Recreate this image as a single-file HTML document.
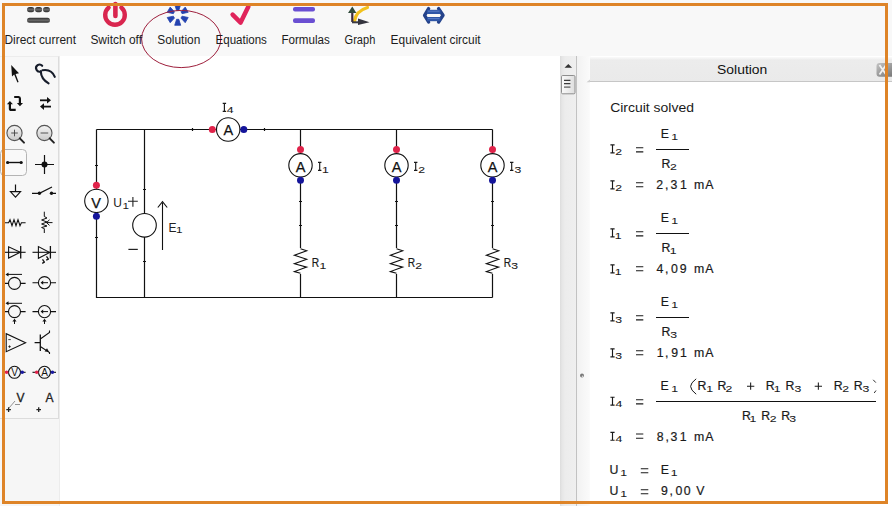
<!DOCTYPE html>
<html><head><meta charset="utf-8">
<style>
html,body{margin:0;padding:0;}
body{width:892px;height:506px;position:relative;overflow:hidden;background:#fff;font-family:"Liberation Sans",sans-serif;}
.abs{position:absolute;}
#toolbar{left:0;top:0;width:892px;height:56px;background:#f8f8f8;}
#leftstrip{left:0;top:56px;width:59px;height:450px;background:#f6f6f6;border-right:1px solid #ececec;}
#panel{left:0;top:56px;width:58px;height:361px;background:#f7f7f7;border-right:1px solid #dcdcdc;border-bottom:1px solid #dcdcdc;border-top:1px solid #ececec;}
#canvas{left:60px;top:56px;width:501px;height:450px;background:#fff;}
#vscroll{left:560px;top:56px;width:16px;height:450px;background:linear-gradient(to right,#dcdcdc 0,#e6e6e6 2px,#ececec 5px,#efefef 100%);border-right:1px solid #c2c2c2;}
#splitter{left:577px;top:56px;width:14px;height:450px;background:linear-gradient(to right,#f2f2f2 0,#f6f6f6 6px,#fafafa 12px,#fdfdfd 100%);}
#solhdr{left:590px;top:57px;width:302px;height:24px;background:linear-gradient(#fafafa 0,#f6f6f6 1px,#ececec 3px,#eaeaea 100%);border-bottom:1px solid #c6c6c6;}
#solbody{left:590px;top:82px;width:302px;height:424px;background:#fff;}
#frame{left:2px;top:3px;width:880px;height:495px;border:3px solid #de8428;}
svg{position:absolute;left:0;top:0;}
</style></head>
<body>
<div id="toolbar" class="abs"></div>
<div id="leftstrip" class="abs"></div>
<div id="panel" class="abs"></div>
<div id="canvas" class="abs"></div>
<div id="vscroll" class="abs"></div>
<div id="splitter" class="abs"></div>
<div id="solhdr" class="abs"></div>
<div id="solbody" class="abs"></div>

<svg width="892" height="506" viewBox="0 0 892 506" font-family="Liberation Sans, sans-serif">

  <!-- ===== toolbar icons ===== -->
  <defs>
    <linearGradient id="gdc" x1="0" y1="0" x2="0" y2="1">
      <stop offset="0" stop-color="#2e2e2e"/><stop offset="0.5" stop-color="#6a6a6a"/><stop offset="1" stop-color="#2a2a2a"/>
    </linearGradient>
    <linearGradient id="gmag" x1="0" y1="0" x2="0" y2="1">
      <stop offset="0" stop-color="#f4f4f4"/><stop offset="1" stop-color="#c9c9c9"/>
    </linearGradient>
    <linearGradient id="gthumb" x1="0" y1="0" x2="1" y2="0">
      <stop offset="0" stop-color="#fafafa"/><stop offset="1" stop-color="#dedede"/>
    </linearGradient>
    <linearGradient id="gclose" x1="0" y1="0" x2="1" y2="1">
      <stop offset="0" stop-color="#c4c4c4"/><stop offset="1" stop-color="#6e6e6e"/>
    </linearGradient>
    <linearGradient id="ghdr" x1="0" y1="0" x2="0" y2="1">
      <stop offset="0" stop-color="#f3f3f3"/><stop offset="1" stop-color="#e6e6e6"/>
    </linearGradient>
  </defs>
  <!-- Direct current -->
  <g fill="url(#gdc)">
    <rect x="27" y="7" width="7.4" height="5.2" rx="2.6"/>
    <rect x="35" y="7" width="7.2" height="5.2" rx="2.6"/>
    <rect x="43" y="7" width="7" height="5.2" rx="2.6"/>
    <rect x="27" y="17.8" width="23" height="5" rx="2.5"/>
  </g>
  <!-- Switch off (power) -->
  <path d="M108.6 7.6 A9.8 9.8 0 1 0 121.4 7.6" fill="none" stroke="#d9264f" stroke-width="4.4" stroke-linecap="round"/>
  <path d="M115.4 4 V16" stroke="#d9264f" stroke-width="4.6" stroke-linecap="round"/>
  <!-- Solution spinner -->
  <path d="M178.80 10.50 L180.70 4.50 L174.70 4.50 L176.60 10.50 Z M182.06 13.65 L188.21 12.30 L185.21 7.10 L180.96 11.75 Z M180.96 18.05 L185.21 22.70 L188.21 17.50 L182.06 16.15 Z M176.60 19.30 L174.70 25.30 L180.70 25.30 L178.80 19.30 Z M173.34 16.15 L167.19 17.50 L170.19 22.70 L174.44 18.05 Z M174.44 11.75 L170.19 7.10 L167.19 12.30 L173.34 13.65 Z" fill="#2443b0" stroke="#2443b0" stroke-width="0.8" stroke-linejoin="round"/>
  <!-- Equations checkmark -->
  <path d="M232.6 14.6 L240.6 22.6 L248.4 6.6" fill="none" stroke="#e0245b" stroke-width="4.5" stroke-linecap="round" stroke-linejoin="round"/>
  <!-- Formulas = -->
  <g fill="#6a4fd2">
    <rect x="293" y="7" width="22" height="4.4" rx="2"/>
    <rect x="293" y="18.3" width="22" height="4.8" rx="2"/>
  </g>
  <!-- Graph -->
  <path d="M354.5 21 Q356 11 367.5 7.5" fill="none" stroke="#f2c21e" stroke-width="3.2" stroke-linecap="round"/>
  <path d="M352.3 22 V11" stroke="#3c2a3c" stroke-width="2.2"/>
  <path d="M348 13 L352.3 6.5 L356.4 13 Z" fill="#2f4a3a"/>
  <path d="M352 22.3 H360" stroke="#3a3a44" stroke-width="2"/>
  <path d="M358 18.6 L369.5 22.3 L358 25 Z" fill="#34343e"/>
  <!-- Equivalent circuit -->
  <g fill="none" stroke="#24428a" stroke-width="3.4" stroke-linejoin="round" stroke-linecap="round">
    <path d="M428.6 8.6 L424.6 15.3 L428.6 22"/>
    <path d="M438.6 8.6 L443 15.3 L438.6 22"/>
  </g>
  <rect x="427" y="9.8" width="13.5" height="4.2" fill="#2f56a6"/>
  <rect x="427" y="17" width="13.5" height="4.2" fill="#2f56a6"/>
  <path d="M428 11.2 H439.5 M428 18.6 H439.5" stroke="#5a7cc6" stroke-width="1"/>
  <!-- red ellipse annotation -->
  <ellipse cx="181.2" cy="39" rx="39.6" ry="28.6" fill="none" stroke="#9e1f3c" stroke-width="1"/>

  <!-- ===== left tool panel icons ===== -->
  <!-- cursor -->
  <path d="M11.2 65 L19 73.2 L15.6 74 L18.6 82 L17.4 82.5 L14.2 74.6 L12 76.6 Z" fill="#111"/>
  <!-- pliers / ribbon -->
  <g fill="none" stroke="#161c2a" stroke-width="2.1" stroke-linecap="round">
    <path d="M42.2 65.8 A3.5 3.5 0 1 0 40.8 71.4"/>
    <path d="M40.8 71.4 Q41 79 48.6 83.3"/>
    <path d="M42.4 70.2 Q51.5 68.6 54.8 76.8"/>
  </g>
  <!-- rotate -->
  <g fill="none" stroke="#111" stroke-width="2.2" stroke-linejoin="round">
    <path d="M14.2 97 H18.6 Q19.9 97 19.9 98.4 V103.4"/>
    <path d="M9.9 104 V108.4 Q9.9 109.9 11.4 109.9 H15.7"/>
  </g>
  <path d="M16.9 102.9 L23 102.9 L19.95 106.2 Z" fill="#111"/>
  <path d="M6.9 104.3 L12.9 104.3 L9.9 100.9 Z" fill="#111"/>
  <!-- swap -->
  <g stroke="#111" stroke-width="1.8">
    <path d="M40 100.3 H48"/><path d="M43 106.6 H51"/>
  </g>
  <path d="M47 97 L51 100.3 L47 103.6 Z" fill="#111"/>
  <path d="M44 103.3 L40 106.6 L44 109.9 Z" fill="#111"/>
  <!-- zoom + -->
  <circle cx="14.5" cy="133" r="7.6" fill="url(#gmag)" stroke="#555" stroke-width="1.1"/>
  <path d="M11.2 133 H17.8 M14.5 129.7 V136.3" stroke="#444" stroke-width="0.9"/>
  <path d="M19.8 138.4 L24 142.6" stroke="#222" stroke-width="2" stroke-linecap="round"/>
  <!-- zoom - -->
  <circle cx="44.4" cy="133" r="7.6" fill="url(#gmag)" stroke="#555" stroke-width="1.1"/>
  <path d="M40.6 133 H48.2" stroke="#444" stroke-width="0.9"/>
  <path d="M49.7 138.4 L53.9 142.6" stroke="#222" stroke-width="2" stroke-linecap="round"/>
  <!-- wire (selected) -->
  <rect x="0.5" y="149.5" width="26" height="26" rx="4" fill="#f9f9f9" stroke="#b4b4b4" stroke-width="1"/>
  <path d="M7.4 162.5 H21.4" stroke="#111" stroke-width="1.4"/>
  <circle cx="7.6" cy="162.5" r="1.6" fill="#111"/><circle cx="21.2" cy="162.5" r="1.6" fill="#111"/>
  <!-- junction -->
  <path d="M35 164.5 H54 M44.5 155 V174" stroke="#111" stroke-width="1.2"/>
  <circle cx="44.5" cy="164.5" r="3" fill="#111"/>
  <!-- ground -->
  <path d="M15.5 184.5 V191.6" stroke="#111" stroke-width="1.2"/>
  <path d="M10.4 191.6 H20.6 L15.5 197.2 Z" fill="none" stroke="#111" stroke-width="1.1"/>
  <!-- switch -->
  <path d="M32 193.3 H39.4 L52 187 M51.5 193.3 H56" fill="none" stroke="#111" stroke-width="1.2"/>
  <circle cx="39.4" cy="193.3" r="1.7" fill="#111"/><circle cx="51.5" cy="193.3" r="1.7" fill="#111"/>
  <!-- resistor -->
  <path d="M4.8 222.7 H8.6 L10 219.7 L12 225.7 L14 219.7 L16 225.7 L18 219.7 L20 225.7 L21.4 222.7 H25.6" fill="none" stroke="#111" stroke-width="1.1"/>
  <!-- variable resistor -->
  <path d="M44.3 211.7 V216.5 L47 218 L41.6 220 L47 222 L41.6 224 L47 226 L41.6 227.5 L44.3 228.6 V233" fill="none" stroke="#111" stroke-width="1"/>
  <path d="M52.5 222.6 H46.5 M49.5 219.8 L46.5 222.6 L49.5 225.4" fill="none" stroke="#111" stroke-width="1"/>
  <!-- diode -->
  <path d="M4.8 252.3 H25.6" stroke="#111" stroke-width="1.1"/>
  <path d="M8.6 246.8 V258 L20.3 252.3 Z" fill="none" stroke="#111" stroke-width="1.1"/>
  <path d="M20.7 246 V258.6" stroke="#111" stroke-width="1.3"/>
  <!-- LED -->
  <path d="M32.5 252.3 H56" stroke="#111" stroke-width="1.1"/>
  <path d="M38.4 246.6 V258.3 L49.7 252.5 Z" fill="none" stroke="#111" stroke-width="1.1"/>
  <path d="M50.4 246 V258.6" stroke="#111" stroke-width="1.3"/>
  <path d="M42.5 259.4 L44.4 262.2 L42.2 263.3 M46.5 256.3 L48.4 259.1 L46.2 260.2" fill="none" stroke="#111" stroke-width="1.3" stroke-linejoin="round"/>
  <!-- voltage source -->
  <path d="M4.8 283.4 H8.5 M20.5 283.4 H25.6" stroke="#111" stroke-width="1.1"/>
  <circle cx="14.5" cy="283.4" r="6" fill="none" stroke="#111" stroke-width="1.1"/>
  <path d="M7 274.4 H22" stroke="#111" stroke-width="1"/>
  <path d="M5.5 274.4 L8.5 272.4 L8.5 276.4 Z" fill="#111"/>
  <!-- current source -->
  <path d="M32.5 282.7 H38.3 M50.7 282.7 H56" stroke="#111" stroke-width="1.1"/>
  <circle cx="44.5" cy="282.7" r="6.1" fill="none" stroke="#111" stroke-width="1.1"/>
  <path d="M41.5 282.7 H48" stroke="#111" stroke-width="1"/>
  <path d="M40.6 282.7 L43.2 280.6 L43.2 284.8 Z" fill="#111"/>
  <!-- controlled voltage source -->
  <path d="M4.8 311.6 H8.5 M20.5 311.6 H25.6" stroke="#111" stroke-width="1.1"/>
  <circle cx="14.5" cy="311.6" r="6" fill="none" stroke="#111" stroke-width="1.1"/>
  <path d="M7 303.3 H22" stroke="#111" stroke-width="1"/>
  <path d="M5.5 303.3 L8.5 301.3 L8.5 305.3 Z" fill="#111"/>
  <path d="M14.5 320 V324" stroke="#111" stroke-width="1"/>
  <path d="M12.4 321.4 L14.5 318.8 L16.6 321.4 Z" fill="#111"/>
  <!-- controlled current source -->
  <path d="M32.5 311.6 H38.3 M50.7 311.6 H56" stroke="#111" stroke-width="1.1"/>
  <circle cx="44.5" cy="311.6" r="6.1" fill="none" stroke="#111" stroke-width="1.1"/>
  <path d="M41.5 311.6 H48" stroke="#111" stroke-width="1"/>
  <path d="M40.6 311.6 L43.2 309.5 L43.2 313.7 Z" fill="#111"/>
  <path d="M44.5 320 V324" stroke="#111" stroke-width="1"/>
  <path d="M42.4 321.4 L44.5 318.8 L46.6 321.4 Z" fill="#111"/>
  <!-- op-amp -->
  <path d="M6.2 333.7 V351.7 L25.6 342.7 Z" fill="none" stroke="#111" stroke-width="1.1"/>
  <path d="M8.3 339.6 H10.8 M8.3 346.6 H10.8 M9.55 345.35 V347.85" stroke="#111" stroke-width="0.8"/>
  <!-- transistor -->
  <path d="M34.6 342.7 H40 M40.3 334.4 V351" stroke="#111" stroke-width="1.3"/>
  <path d="M40.3 339 L49.5 332.5 V330.5 M40.3 346.5 L49.5 352.5 V354" fill="none" stroke="#111" stroke-width="1.1"/>
  <path d="M49 351.8 L44.6 351.6 L47 348.2 Z" fill="#111"/>
  <!-- voltmeter -->
  <path d="M4.8 372.3 H25.6" stroke="#111" stroke-width="1.1"/>
  <circle cx="14.5" cy="372.3" r="6" fill="#f7f7f7" stroke="#111" stroke-width="1.1"/>
  <circle cx="6.6" cy="372.3" r="1.8" fill="#e0234a"/>
  <circle cx="22.2" cy="372.3" r="1.8" fill="#1a1aa0"/>
  <text x="14.5" y="376.2" font-size="10" text-anchor="middle" fill="#111">V</text>
  <!-- ammeter -->
  <path d="M32.5 372.3 H56" stroke="#111" stroke-width="1.1"/>
  <circle cx="44.5" cy="372.3" r="6" fill="#f7f7f7" stroke="#111" stroke-width="1.1"/>
  <circle cx="36.7" cy="372.3" r="1.8" fill="#e0234a"/>
  <circle cx="52.4" cy="372.3" r="1.8" fill="#1a1aa0"/>
  <text x="44.5" y="376.2" font-size="10" text-anchor="middle" fill="#111">A</text>
  <!-- V/A labels -->
  <text x="16.4" y="401.5" font-size="12" fill="#222" stroke="#222" stroke-width="0.3">V</text>
  <text x="45.4" y="401.5" font-size="12" fill="#222" stroke="#222" stroke-width="0.3">A</text>
  <path d="M6.3 409.6 H10.9 M8.6 407.3 V411.9 M36.4 409.6 H41 M38.7 407.3 V411.9" stroke="#222" stroke-width="1.3"/>
  <path d="M9 408 L15 401 M15 404.5 H20" stroke="#777" stroke-width="0.8"/>


  <!-- ===== circuit ===== -->
  <g stroke="#111" stroke-width="1.2" fill="none">
    <path d="M96.5 129.5 H492.5 M96.5 129.5 V297.5 H492.5 M144.5 129.5 V297.5 M300.5 129.5 V297.5 M396.5 129.5 V297.5 M492.5 129.5 V297.5"/>
  </g>
  <!-- ticks -->
  <g stroke="#111" stroke-width="1.2">
    <path d="M95 165.5 H98 M95 237.5 H98 M143 189.5 H146 M143 261.5 H146 M192.5 128 V131 M264.5 128 V131"/>
    <path d="M299 201.5 H302 M299 225.5 H302 M395 201.5 H398 M395 225.5 H398 M491 201.5 H494 M491 225.5 H494"/>
  </g>
  <!-- resistors -->
  <g id="res1" fill="none" stroke="#111" stroke-width="1.1">
    <rect x="293" y="248" width="15" height="26" fill="#fff" stroke="none"/>
    <path d="M300.5 248.8 L306.7 250.8 L294.4 255.3 L306.7 259.2 L294.4 263.7 L306.7 267.1 L294.4 271.6 L300.5 273.2"/>
  </g>
  <use href="#res1" x="96"/>
  <use href="#res1" x="192"/>
  <!-- voltmeter -->
  <circle cx="96.4" cy="200.9" r="11.7" fill="#fff" stroke="#111" stroke-width="1.1"/>
  <circle cx="96.4" cy="185.3" r="3.5" fill="#e0234a"/>
  <circle cx="96.4" cy="216.2" r="3.5" fill="#14149a"/>
  <text x="96.2" y="207.6" font-size="14.5" text-anchor="middle" fill="#111" stroke="#111" stroke-width="0.25">V</text>
  <text x="113.3" y="206.7" font-size="12" fill="#222">U</text>
  <text transform="translate(122.4 208.6) scale(1.3 1)" font-size="9" fill="#1a1a1a">1</text>
  <path d="M128 201.3 H137.8 M132.9 196.9 V206.7" stroke="#222" stroke-width="1.1"/>
  <!-- E1 source -->
  <circle cx="144.5" cy="225.3" r="11.8" fill="#fff" stroke="#111" stroke-width="1.1"/>
  <path d="M162.5 250 V203" stroke="#111" stroke-width="1.1"/>
  <path d="M157.8 207.5 L162.5 201.6 L167.2 207.5" fill="none" stroke="#111" stroke-width="1.1"/>
  <path d="M128.4 249.4 H137.8" stroke="#222" stroke-width="1.2"/>
  <text x="168.5" y="231.7" font-size="12" fill="#222">E</text>
  <text transform="translate(176.0 233) scale(1.3 1)" font-size="9" fill="#1a1a1a">1</text>
  <!-- ammeters -->
  <g id="amm1">
    <circle cx="300.5" cy="165.3" r="11.7" fill="#fff" stroke="#111" stroke-width="1.1"/>
    <circle cx="300.5" cy="149.4" r="3.5" fill="#e0234a"/>
    <circle cx="300.5" cy="180.2" r="3.5" fill="#14149a"/>
    <text x="300.5" y="171.5" font-size="14.5" text-anchor="middle" fill="#111" stroke="#111" stroke-width="0.25">A</text>
  </g>
  <use href="#amm1" x="96"/>
  <use href="#amm1" x="192"/>
  <circle cx="228.2" cy="129.5" r="11.7" fill="#fff" stroke="#111" stroke-width="1.1"/>
  <circle cx="212.3" cy="129.5" r="3.5" fill="#e0234a"/>
  <circle cx="243.8" cy="129.5" r="3.5" fill="#14149a"/>
  <text x="228.4" y="135.4" font-size="14.5" text-anchor="middle" fill="#111" stroke="#111" stroke-width="0.25">A</text>
<!-- LBL START -->
  <g fill="#1a1a1a" stroke="#1a1a1a" stroke-width="0.2">
<path d="M318.00 162.40 H321.40 M319.70 162.40 V170.30 M318.00 170.30 H321.40" stroke="#1a1a1a" stroke-width="1.15" fill="none"/>
<text transform="translate(321.97 172.80) scale(1.3 1)" font-size="9.4" stroke-width="0.08">1</text>
<path d="M414.00 162.40 H417.40 M415.70 162.40 V170.30 M414.00 170.30 H417.40" stroke="#1a1a1a" stroke-width="1.15" fill="none"/>
<text transform="translate(418.29 172.80) scale(1.3 1)" font-size="9.4" stroke-width="0.08">2</text>
<path d="M510.00 162.40 H513.40 M511.70 162.40 V170.30 M510.00 170.30 H513.40" stroke="#1a1a1a" stroke-width="1.15" fill="none"/>
<text transform="translate(514.43 172.80) scale(1.3 1)" font-size="9.4" stroke-width="0.08">3</text>
<path d="M222.70 103.40 H226.10 M224.40 103.40 V111.30 M222.70 111.30 H226.10" stroke="#1a1a1a" stroke-width="1.15" fill="none"/>
<text transform="translate(226.72 113.00) scale(1.3 1)" font-size="9.4" stroke-width="0.08">4</text>
<text transform="translate(311.87 266.6) scale(0.85 1)" font-size="12">R</text>
<text transform="translate(319.4 268.60) scale(1.3 1)" font-size="9.4" stroke-width="0.08">1</text>
<text transform="translate(407.87 266.6) scale(0.85 1)" font-size="12">R</text>
<text transform="translate(415.2 268.60) scale(1.3 1)" font-size="9.4" stroke-width="0.08">2</text>
<text transform="translate(503.87 266.6) scale(0.85 1)" font-size="12">R</text>
<text transform="translate(511.2 268.60) scale(1.3 1)" font-size="9.4" stroke-width="0.08">3</text>
  </g>
<!-- LBL END -->


  <!-- ===== scrollbar / splitter / header ===== -->
  <path d="M564.5 67.7 L568.3 63.9 L572.1 67.7 Z" fill="#333"/>
  <rect x="561.5" y="75.5" width="13.5" height="18.3" rx="1.2" fill="url(#gthumb)" stroke="#8e8e8e" stroke-width="1"/>
  <path d="M564 80.3 H570.4 M564 83.7 H570.4" stroke="#3a3a3a" stroke-width="1.2"/>
  <path d="M564 87.1 H570.4" stroke="#555" stroke-width="1.2"/>
    <circle cx="582" cy="375.6" r="2" fill="#777"/>
  <circle cx="582.5" cy="376.2" r="0.8" fill="#ddd"/>
  <path d="M590 82.2 L586.5 82.2 L590 79.5 Z" fill="#cfcfcf"/>
  <text x="717.1" y="73.8" font-size="12.6" fill="#111" textLength="50.2" lengthAdjust="spacingAndGlyphs">Solution</text>
  <rect x="876.5" y="62.9" width="20" height="13.8" rx="3" fill="url(#gclose)"/>
  <path d="M879.5 65 L886 74.5 M886 65 L879.5 74.5" stroke="#f2f2f2" stroke-width="1.8"/>
<!-- SOL START -->
<g fill="#1a1a1a" stroke="#1a1a1a" stroke-width="0.2">
<text x="610.2" y="111.7" font-size="12.4" stroke="none" textLength="83.8" lengthAdjust="spacingAndGlyphs">Circuit solved</text>
<path d="M610.40 144.90 H614.60 M612.50 144.90 V152.80 M610.40 152.80 H614.60" stroke="#1a1a1a" stroke-width="1.15" fill="none"/>
<text transform="translate(615.18 154.80) scale(1.25 1)" font-size="9.8" stroke-width="0.08">2</text>
<path d="M636 147.75 H643.3 M636 151.85 H643.3" stroke="#1a1a1a" stroke-width="1.05"/>
<path d="M656 149.5 H689" stroke="#111" stroke-width="1.2"/>
<text x="660.69" y="137.90" font-size="12.3">E</text>
<text transform="translate(671.37 139.80) scale(1.25 1)" font-size="9.8" stroke-width="0.08">1</text>
<text x="661.39" y="167.60" font-size="12.3">R</text>
<text transform="translate(669.98 169.60) scale(1.25 1)" font-size="9.8" stroke-width="0.08">2</text>
<path d="M610.40 180.90 H614.60 M612.50 180.90 V188.80 M610.40 188.80 H614.60" stroke="#1a1a1a" stroke-width="1.15" fill="none"/>
<text transform="translate(615.18 190.80) scale(1.25 1)" font-size="9.8" stroke-width="0.08">2</text>
<path d="M636 182.65 H643.3 M636 186.75 H643.3" stroke="#1a1a1a" stroke-width="1.05"/>
<text x="656.28" y="189.30" font-size="12.3">2</text>
<text x="665.09" y="189.30" font-size="12.3">,</text>
<text x="670.53" y="189.30" font-size="12.3">3</text>
<text x="680.06" y="189.30" font-size="12.3">1</text>
<text x="693.88" y="189.30" font-size="12.3">m</text>
<text x="705.28" y="189.30" font-size="12.3">A</text>
<path d="M610.40 228.90 H614.60 M612.50 228.90 V236.80 M610.40 236.80 H614.60" stroke="#1a1a1a" stroke-width="1.15" fill="none"/>
<text transform="translate(614.87 238.80) scale(1.25 1)" font-size="9.8" stroke-width="0.08">1</text>
<path d="M636 231.75 H643.3 M636 235.85 H643.3" stroke="#1a1a1a" stroke-width="1.05"/>
<path d="M656 233.5 H689" stroke="#111" stroke-width="1.2"/>
<text x="660.69" y="221.90" font-size="12.3">E</text>
<text transform="translate(671.37 223.80) scale(1.25 1)" font-size="9.8" stroke-width="0.08">1</text>
<text x="661.39" y="251.60" font-size="12.3">R</text>
<text transform="translate(669.67 253.60) scale(1.25 1)" font-size="9.8" stroke-width="0.08">1</text>
<path d="M610.40 264.90 H614.60 M612.50 264.90 V272.80 M610.40 272.80 H614.60" stroke="#1a1a1a" stroke-width="1.15" fill="none"/>
<text transform="translate(614.87 274.80) scale(1.25 1)" font-size="9.8" stroke-width="0.08">1</text>
<path d="M636 266.65 H643.3 M636 270.75 H643.3" stroke="#1a1a1a" stroke-width="1.05"/>
<text x="656.62" y="273.30" font-size="12.3">4</text>
<text x="665.09" y="273.30" font-size="12.3">,</text>
<text x="671.12" y="273.30" font-size="12.3">0</text>
<text x="679.82" y="273.30" font-size="12.3">9</text>
<text x="693.88" y="273.30" font-size="12.3">m</text>
<text x="705.28" y="273.30" font-size="12.3">A</text>
<path d="M610.40 312.90 H614.60 M612.50 312.90 V320.80 M610.40 320.80 H614.60" stroke="#1a1a1a" stroke-width="1.15" fill="none"/>
<text transform="translate(615.33 322.80) scale(1.25 1)" font-size="9.8" stroke-width="0.08">3</text>
<path d="M636 315.75 H643.3 M636 319.85 H643.3" stroke="#1a1a1a" stroke-width="1.05"/>
<path d="M656 317.5 H689" stroke="#111" stroke-width="1.2"/>
<text x="660.69" y="305.90" font-size="12.3">E</text>
<text transform="translate(671.37 307.80) scale(1.25 1)" font-size="9.8" stroke-width="0.08">1</text>
<text x="661.39" y="335.60" font-size="12.3">R</text>
<text transform="translate(670.13 337.60) scale(1.25 1)" font-size="9.8" stroke-width="0.08">3</text>
<path d="M610.40 348.90 H614.60 M612.50 348.90 V356.80 M610.40 356.80 H614.60" stroke="#1a1a1a" stroke-width="1.15" fill="none"/>
<text transform="translate(615.33 358.80) scale(1.25 1)" font-size="9.8" stroke-width="0.08">3</text>
<path d="M636 350.65 H643.3 M636 354.75 H643.3" stroke="#1a1a1a" stroke-width="1.05"/>
<text x="656.66" y="357.30" font-size="12.3">1</text>
<text x="665.09" y="357.30" font-size="12.3">,</text>
<text x="671.22" y="357.30" font-size="12.3">9</text>
<text x="680.06" y="357.30" font-size="12.3">1</text>
<text x="693.88" y="357.30" font-size="12.3">m</text>
<text x="705.28" y="357.30" font-size="12.3">A</text>
<path d="M610.40 397.20 H614.60 M612.50 397.20 V405.10 M610.40 405.10 H614.60" stroke="#1a1a1a" stroke-width="1.15" fill="none"/>
<text transform="translate(615.52 407.10) scale(1.25 1)" font-size="9.8" stroke-width="0.08">4</text>
<path d="M636 399.75 H643.3 M636 403.85 H643.3" stroke="#1a1a1a" stroke-width="1.05"/>
<path d="M656 401.5 H876" stroke="#111" stroke-width="1.2"/>
<text x="660.39" y="389.90" font-size="12.3">E</text>
<text transform="translate(671.27 391.80) scale(1.25 1)" font-size="9.8" stroke-width="0.08">1</text>
<path d="M696.2 378.8 Q690.6 383 690.6 386.4 Q690.6 390 696.2 394.2" fill="none" stroke="#1a1a1a" stroke-width="1"/>
<text x="697.49" y="389.90" font-size="12.3">R</text>
<text transform="translate(706.27 391.90) scale(1.25 1)" font-size="9.8" stroke-width="0.08">1</text>
<text x="717.59" y="389.90" font-size="12.3">R</text>
<text transform="translate(725.58 391.90) scale(1.25 1)" font-size="9.8" stroke-width="0.08">2</text>
<text x="765.69" y="389.90" font-size="12.3">R</text>
<text transform="translate(773.87 391.90) scale(1.25 1)" font-size="9.8" stroke-width="0.08">1</text>
<text x="785.59" y="389.90" font-size="12.3">R</text>
<text transform="translate(794.43 391.90) scale(1.25 1)" font-size="9.8" stroke-width="0.08">3</text>
<text x="833.69" y="389.90" font-size="12.3">R</text>
<text transform="translate(842.18 391.90) scale(1.25 1)" font-size="9.8" stroke-width="0.08">2</text>
<text x="853.69" y="389.90" font-size="12.3">R</text>
<text transform="translate(862.43 391.90) scale(1.25 1)" font-size="9.8" stroke-width="0.08">3</text>
<path d="M747 386.2 H754.3 M750.65 382.55 V389.85" stroke="#1a1a1a" stroke-width="1.05"/>
<path d="M814.7 386.2 H822 M818.35 382.55 V389.85" stroke="#1a1a1a" stroke-width="1.05"/>
<path d="M873.2 379.8 L875.8 382.6 M876 390.5 L874.2 393" fill="none" stroke="#1a1a1a" stroke-width="0.9"/>
<text x="741.89" y="419.80" font-size="12.3">R</text>
<text transform="translate(749.47 421.80) scale(1.25 1)" font-size="9.8" stroke-width="0.08">1</text>
<text x="761.19" y="419.80" font-size="12.3">R</text>
<text transform="translate(769.78 421.80) scale(1.25 1)" font-size="9.8" stroke-width="0.08">2</text>
<text x="781.19" y="419.80" font-size="12.3">R</text>
<text transform="translate(789.33 421.80) scale(1.25 1)" font-size="9.8" stroke-width="0.08">3</text>
<path d="M610.40 432.30 H614.60 M612.50 432.30 V440.20 M610.40 440.20 H614.60" stroke="#1a1a1a" stroke-width="1.15" fill="none"/>
<text transform="translate(615.52 442.20) scale(1.25 1)" font-size="9.8" stroke-width="0.08">4</text>
<path d="M636 434.05 H643.3 M636 438.15 H643.3" stroke="#1a1a1a" stroke-width="1.05"/>
<text x="656.67" y="440.70" font-size="12.3">8</text>
<text x="665.59" y="440.70" font-size="12.3">,</text>
<text x="670.53" y="440.70" font-size="12.3">3</text>
<text x="679.86" y="440.70" font-size="12.3">1</text>
<text x="693.88" y="440.70" font-size="12.3">m</text>
<text x="705.28" y="440.70" font-size="12.3">A</text>
<text x="609.55" y="474.10" font-size="12.3">U</text>
<text transform="translate(620.37 475.70) scale(1.25 1)" font-size="9.8" stroke-width="0.08">1</text>
<path d="M640.8 468.65 H648.3 M640.8 472.75 H648.3" stroke="#1a1a1a" stroke-width="1.05"/>
<text x="660.69" y="474.10" font-size="12.3">E</text>
<text transform="translate(670.87 475.70) scale(1.25 1)" font-size="9.8" stroke-width="0.08">1</text>
<text x="609.55" y="495.10" font-size="12.3">U</text>
<text transform="translate(620.37 496.70) scale(1.25 1)" font-size="9.8" stroke-width="0.08">1</text>
<path d="M640.8 489.65 H648.3 M640.8 493.75 H648.3" stroke="#1a1a1a" stroke-width="1.05"/>
<text x="661.12" y="495.10" font-size="12.3">9</text>
<text x="669.49" y="495.10" font-size="12.3">,</text>
<text x="675.42" y="495.10" font-size="12.3">0</text>
<text x="683.72" y="495.10" font-size="12.3">0</text>
<text x="696.15" y="495.10" font-size="12.3">V</text>
</g>
<!-- SOL END -->
  <!-- toolbar labels -->
  <g font-size="12" fill="#1c1c1c">
    <text x="4.5" y="44" textLength="71.5" lengthAdjust="spacingAndGlyphs">Direct current</text>
    <text x="90.4" y="44" textLength="51.6" lengthAdjust="spacingAndGlyphs">Switch off</text>
    <text x="157.3" y="44" textLength="43" lengthAdjust="spacingAndGlyphs">Solution</text>
    <text x="215.5" y="44" textLength="51.4" lengthAdjust="spacingAndGlyphs">Equations</text>
    <text x="281.4" y="44" textLength="48.4" lengthAdjust="spacingAndGlyphs">Formulas</text>
    <text x="344.6" y="44" textLength="30.7" lengthAdjust="spacingAndGlyphs">Graph</text>
    <text x="390.6" y="44" textLength="90" lengthAdjust="spacingAndGlyphs">Equivalent circuit</text>
  </g>
</svg>

<div id="frame" class="abs"></div>
</body></html>
